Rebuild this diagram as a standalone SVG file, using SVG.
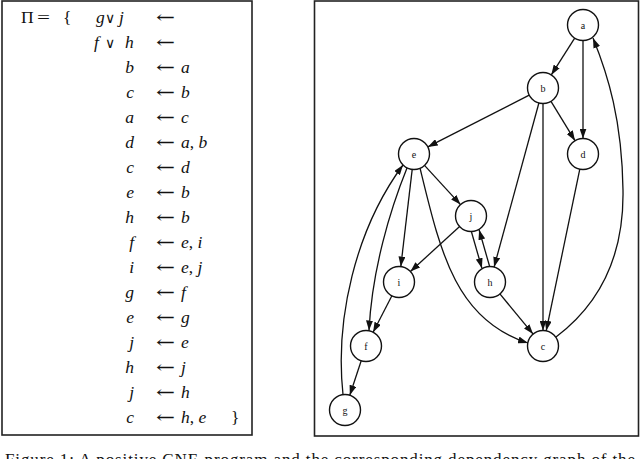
<svg xmlns="http://www.w3.org/2000/svg" width="640" height="459" viewBox="0 0 640 459">
<defs>
<style>
.box{fill:none;stroke:#222;stroke-width:1.6}
.m{font-family:"Liberation Serif","DejaVu Serif",serif;font-size:17.5px;font-style:italic;fill:#111}
.u{font-family:"Liberation Serif","DejaVu Serif",serif;font-size:17.5px;fill:#111}
.op{font-family:"DejaVu Serif","Liberation Serif",serif;font-size:14px;fill:#111}
.arr{font-family:"DejaVu Serif","Liberation Serif",serif;font-size:17px;fill:#111}
.node circle{fill:#fff;stroke:#111;stroke-width:1.4}
.node text{font-family:"Liberation Serif","DejaVu Serif",serif;font-size:10px;fill:#111;text-anchor:middle}
.edges path{fill:none;stroke:#111;stroke-width:1.3}
.cap{font-family:"Liberation Serif","DejaVu Serif",serif;font-size:17px;fill:#111}
</style>
<marker id="ah" viewBox="0 0 10 7" refX="10" refY="3.5" markerWidth="10" markerHeight="7" markerUnits="userSpaceOnUse" orient="auto">
<path d="M0,0 L10,3.5 L0,7 z" fill="#111"/>
</marker>
</defs>
<rect width="640" height="459" fill="#fff"/>

<g id="program">
<rect class="box" x="2" y="1" width="250" height="434"/>
<text class="u" x="21" y="23">Π</text>
<text class="u" x="37" y="23" textLength="13" lengthAdjust="spacingAndGlyphs">=</text>
<text class="u" x="63" y="23">{</text>
<text class="m" x="96" y="23">g</text><text class="op" x="105" y="23">∨</text><text class="m" x="119" y="23">j</text>
<text class="m" x="94" y="48">f</text><text class="op" x="105" y="48">∨</text><text class="m" x="125" y="48">h</text>
<g class="m" text-anchor="end">
<text x="134" y="73">b</text>
<text x="134" y="98">c</text>
<text x="134" y="123">a</text>
<text x="134" y="148">d</text>
<text x="134" y="173">c</text>
<text x="134" y="198">e</text>
<text x="134" y="223">h</text>
<text x="134" y="248">f</text>
<text x="134" y="273">i</text>
<text x="134" y="298">g</text>
<text x="134" y="323">e</text>
<text x="134" y="348">j</text>
<text x="134" y="373">h</text>
<text x="134" y="398">j</text>
<text x="134" y="423">c</text>
</g>
<g class="arr">
<text x="156" y="23" textLength="19" lengthAdjust="spacingAndGlyphs">←</text>
<text x="156" y="48" textLength="19" lengthAdjust="spacingAndGlyphs">←</text>
<text x="156" y="73" textLength="19" lengthAdjust="spacingAndGlyphs">←</text>
<text x="156" y="98" textLength="19" lengthAdjust="spacingAndGlyphs">←</text>
<text x="156" y="123" textLength="19" lengthAdjust="spacingAndGlyphs">←</text>
<text x="156" y="148" textLength="19" lengthAdjust="spacingAndGlyphs">←</text>
<text x="156" y="173" textLength="19" lengthAdjust="spacingAndGlyphs">←</text>
<text x="156" y="198" textLength="19" lengthAdjust="spacingAndGlyphs">←</text>
<text x="156" y="223" textLength="19" lengthAdjust="spacingAndGlyphs">←</text>
<text x="156" y="248" textLength="19" lengthAdjust="spacingAndGlyphs">←</text>
<text x="156" y="273" textLength="19" lengthAdjust="spacingAndGlyphs">←</text>
<text x="156" y="298" textLength="19" lengthAdjust="spacingAndGlyphs">←</text>
<text x="156" y="323" textLength="19" lengthAdjust="spacingAndGlyphs">←</text>
<text x="156" y="348" textLength="19" lengthAdjust="spacingAndGlyphs">←</text>
<text x="156" y="373" textLength="19" lengthAdjust="spacingAndGlyphs">←</text>
<text x="156" y="398" textLength="19" lengthAdjust="spacingAndGlyphs">←</text>
<text x="156" y="423" textLength="19" lengthAdjust="spacingAndGlyphs">←</text>
</g>
<g class="m">
<text x="181" y="73">a</text>
<text x="181" y="98">b</text>
<text x="181" y="123">c</text>
<text x="181" y="148">a<tspan font-style="normal">,</tspan> b</text>
<text x="181" y="173">d</text>
<text x="181" y="198">b</text>
<text x="181" y="223">b</text>
<text x="181" y="248">e<tspan font-style="normal">,</tspan> i</text>
<text x="181" y="273">e<tspan font-style="normal">,</tspan> j</text>
<text x="181" y="298">f</text>
<text x="181" y="323">g</text>
<text x="181" y="348">e</text>
<text x="181" y="373">j</text>
<text x="181" y="398">h</text>
<text x="181" y="423">h<tspan font-style="normal">,</tspan> e</text>
</g>
<text class="u" x="231" y="423">}</text>
</g>

<rect class="box" x="314.5" y="1" width="324" height="435"/>

<g class="edges">
<path marker-end="url(#ah)" d="M574.7,38.1 L551.3,74.9"/>
<path marker-end="url(#ah)" d="M583,40.5 L583,138.5"/>
<path marker-end="url(#ah)" d="M529.2,95.1 L427.8,146.9"/>
<path marker-end="url(#ah)" d="M551,101.3 L575,140.7"/>
<path marker-end="url(#ah)" d="M538.9,103 L494.1,267"/>
<path marker-end="url(#ah)" d="M543,103.5 L543,330.5"/>
<path marker-end="url(#ah)" d="M579.8,169.2 L546.2,330.8"/>
<path marker-end="url(#ah)" d="M556,337 C605,300 624,250 623,190 C622,120 608,75 593,38"/>
<path marker-end="url(#ah)" d="M424.5,165.4 L460.5,204.6"/>
<path marker-end="url(#ah)" d="M412.2,169.4 L400.8,266.6"/>
<path marker-end="url(#ah)" d="M407,168 C390,210 372,270 369,330.5"/>
<path marker-end="url(#ah)" d="M420,168 C440,250 455,320 528,343"/>
<path marker-end="url(#ah)" d="M343,394.5 C335,320 355,230 403,165"/>
<path marker-end="url(#ah)" d="M459.6,226.5 L410.4,271.5"/>
<path marker-end="url(#ah)" d="M471.5,232 L481.9,268.2"/>
<path marker-end="url(#ah)" d="M489.5,266 L479.1,229.8"/>
<path marker-end="url(#ah)" d="M499.9,293.9 L533.1,334.1"/>
<path marker-end="url(#ah)" d="M391.9,295.8 L373.1,332.2"/>
<path marker-end="url(#ah)" d="M361.2,360.7 L349.8,395.3"/>
</g>

<g id="node-a" class="node"><circle cx="583" cy="25" r="15.5"/><text x="583" y="28.5">a</text></g>
<g id="node-b" class="node"><circle cx="543" cy="88" r="15.5"/><text x="543" y="91.5">b</text></g>
<g id="node-d" class="node"><circle cx="583" cy="154" r="15.5"/><text x="583" y="157.5">d</text></g>
<g id="node-e" class="node"><circle cx="414" cy="154" r="15.5"/><text x="414" y="157.5">e</text></g>
<g id="node-j" class="node"><circle cx="471" cy="216" r="15.5"/><text x="471" y="219.5">j</text></g>
<g id="node-i" class="node"><circle cx="399" cy="282" r="15.5"/><text x="399" y="285.5">i</text></g>
<g id="node-h" class="node"><circle cx="490" cy="282" r="15.5"/><text x="490" y="285.5">h</text></g>
<g id="node-c" class="node"><circle cx="543" cy="346" r="15.5"/><text x="543" y="349.5">c</text></g>
<g id="node-f" class="node"><circle cx="366" cy="346" r="15.5"/><text x="366" y="349.5">f</text></g>
<g id="node-g" class="node"><circle cx="345" cy="410" r="15.5"/><text x="345" y="413.5">g</text></g>

<text class="cap" x="5" y="465" textLength="630" lengthAdjust="spacing">Figure 1: A positive CNF-program and the corresponding dependency graph of the</text>
</svg>
